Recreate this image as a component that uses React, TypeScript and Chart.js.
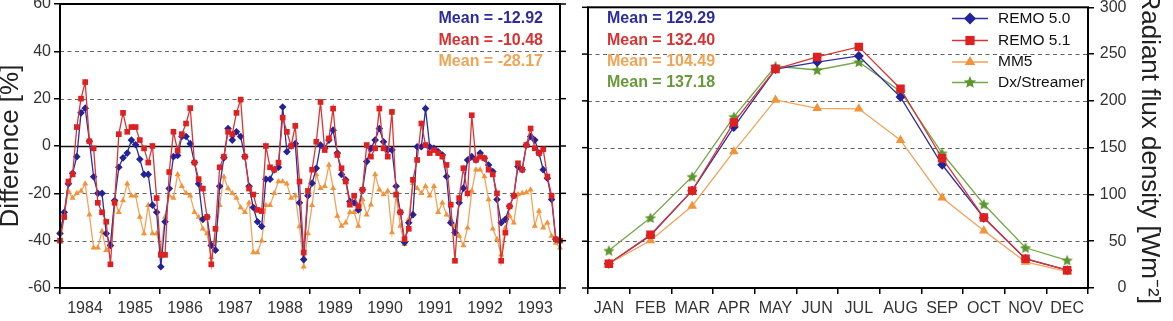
import React, { useEffect, useRef } from 'react';
import { Chart, registerables } from 'chart.js';

Chart.register(...registerables);

const FONT = '"Liberation Sans", Arial, Helvetica, sans-serif';

const YEARS = ['1984', '1985', '1986', '1987', '1988', '1989', '1990', '1991', '1992', '1993'];
const MONTHS = ['JAN', 'FEB', 'MAR', 'APR', 'MAY', 'JUN', 'JUL', 'AUG', 'SEP', 'OCT', 'NOV', 'DEC'];

// Monthly difference [%], Jan 1984 .. Dec 1993
const DIFF_REMO50 = [
  -37, -28, -16, -11.5, -4.5, 14, 16, 2, -13, -20, -20, -37,
  -42, -23, -9, -5, -3, 2.5, 0.5, -5.6, -12, -12, -25, -28,
  -51, -32, -18, -4.5, -4, 4, 4, 1, -7, -16, -31, -30,
  -42, -44, -17, -5, 7.4, 2.5, 6, 4, -4.5, -17, -26, -32,
  -34, -14, -14, -10, -9, 16.5, -2.4, 0, 1, -24, -48, -21,
  -15.7, -9.4, 0.4, -1, 2.5, 6.7, -3, -12, -14.3, -23.4, -24, -27,
  -18.5, -6.6, -1, 2.5, 7.4, 1.8, -1.7, -1.7, -17, -28, -40.8, -32.4,
  -29, -0.3, -0.3, 15.8, -0.3, -1, -2.4, -3.8, -12.9, -32.4, -36.6, -24,
  -17.8, -5.9, -4.5, -5.9, -3, -5.2, -8, -10.8, -22.6, -32.4, -31, -25.5,
  -21, -8.7, -10, 0.4, 4, 2.5, -3, -10, -13.6, -22.6, -39.4, -40,
];
const DIFF_REMO51 = [
  -40, -30, -15, -12, 8, 20, 27, 2, -1, -24, -28, -32,
  -50, -24, 5, 14, 6, 8, 8, 2.5, -1, -7, 0, -22,
  -46, -46, -11, 6, -2, 5, 9.5, 16, -7, -14, -18, -30,
  -50, -35, -9, -4.5, 6, 5, 14, 19.6, -4.5, -18, -20.5, -27,
  -27.5, 0, -9, -10, -7, 12, 6, 0, 8.5, -15, -45, -19,
  -10, 1.8, 18.6, -1.7, 3.2, 15.8, -3.8, -9.4, -15, -24.8, -21, -25.5,
  -18.5, 0.4, -4.5, -1, 15.8, -1, -4.5, 14.4, -20.5, -28, -39.4, -35,
  -14.3, -5.9, 9.5, 0.4, -3, -1.7, -3, -4.5, -8, -24.8, -48.5, -22,
  -9.4, -20, 13, -5.9, -4.5, -5.2, -10, -12, -20, -48.5, -36.6, -25.5,
  -21, -7.3, -10, 0.4, 7.4, -1, -3, -1.4, -12.9, -21, -39.4, -40,
];
const DIFF_MM5 = [
  -36, -29, -19, -22, -20, -19, -16, -29, -43, -43, -36, -44,
  -42, -23, -28, -23, -16, -21, -21, -30, -37, -25, -37, -37,
  -44, -30, -21, -22, -12, -17, -20, -21, -28, -30, -35, -37,
  -47, -40, -25, -13, -18, -20, -22, -26, -28, -24, -45, -45,
  -40, -25, -25, -20, -15, -15, -16, -22, -21, -34, -51, -37,
  -25, -12, -17.8, -17, -8, -17.8, -29.6, -33.8, -32.4, -28, -28, -33.8,
  -22.6, -29, -24.8, -12, -18.5, -20.5, -19, -36.6, -21, -33.8, -41.5, -31,
  -15.7, -17.8, -20, -17, -21, -17, -28, -24, -29, -31, -33.8, -38,
  -42, -34.5, -19, -10, -10, -12.9, -22.6, -35, -39.4, -46, -34.5, -29.6,
  -32.4, -20.5, -20, -19.6, -18.5, -33.8, -27.5, -34.5, -32.4, -38, -41, -43,
];

// Mean annual cycle of radiant flux density [W m-2]
const FLUX_REMO50 = [26, 56, 104, 172, 234, 241.5, 248, 204, 131.7, 75, 31, 19];
const FLUX_REMO51 = [26, 57, 104, 177, 234, 247, 257.7, 213, 138.7, 75.3, 31.3, 19];
const FLUX_MM5 = [26, 50.7, 87.7, 146, 201, 192, 191.5, 158, 96.5, 61.3, 27.8, 17.5];
const FLUX_DX = [40, 75, 119, 183, 237, 233, 241.5, 210, 144, 89.5, 43, 29.6];

const DIFF_MEAN_LABELS = ['Mean = -12.92', 'Mean = -10.48', 'Mean = -28.17'];
const FLUX_MEAN_LABELS = ['Mean = 129.29', 'Mean = 132.40', 'Mean = 104.49', 'Mean = 137.18'];
const SERIES_NAMES = ['REMO 5.0', 'REMO 5.1', 'MM5', 'Dx/Streamer'];

const BLUE = '#22229a';
const BLUE_LINE = '#2e2ea2';
const RED = '#de2020';
const RED_LINE = '#dc3434';
const ORANGE = '#f39236';
const ORANGE_LINE = '#f5a25a';
const GREEN = '#5c962c';
const GREEN_LINE = '#76a84a';
const TEXT_BLUE = '#2c2c9e';
const TEXT_RED = '#d83232';
const TEXT_ORANGE = '#f2a455';
const TEXT_GREEN = '#689a3a';
const TICK_COLOR = '#333';

function starPath(ctx: CanvasRenderingContext2D, cx: number, cy: number, r: number) {
  ctx.beginPath();
  for (let k = 0; k < 10; k++) {
    const rad = k % 2 === 0 ? r : r * 0.45;
    const ang = -Math.PI / 2 + (k * Math.PI) / 5;
    const x = cx + rad * Math.cos(ang);
    const y = cy + rad * Math.sin(ang);
    if (k === 0) ctx.moveTo(x, y);
    else ctx.lineTo(x, y);
  }
  ctx.closePath();
}

function makeStar(color: string, r: number) {
  const size = Math.ceil(r * 2 + 2);
  const c = document.createElement('canvas');
  c.width = size;
  c.height = size;
  const g = c.getContext('2d')!;
  starPath(g, size / 2, size / 2 + 0.5, r);
  g.fillStyle = color;
  g.fill();
  return c;
}

function drawMarker(ctx: CanvasRenderingContext2D, kind: string, x: number, y: number, r: number, color: string) {
  ctx.save();
  ctx.fillStyle = color;
  if (kind === 'star') {
    starPath(ctx, x, y, r);
  } else {
    ctx.beginPath();
    if (kind === 'diamond') {
      ctx.moveTo(x, y - r);
      ctx.lineTo(x + r, y);
      ctx.lineTo(x, y + r);
      ctx.lineTo(x - r, y);
    } else if (kind === 'square') {
      const s = r * Math.SQRT1_2;
      ctx.rect(x - s, y - s, 2 * s, 2 * s);
    } else {
      ctx.moveTo(x, y - r);
      ctx.lineTo(x + r * 0.866, y + r * 0.5);
      ctx.lineTo(x - r * 0.866, y + r * 0.5);
    }
    ctx.closePath();
  }
  ctx.fill();
  ctx.restore();
}

function frameGridPlugin(zeroSolid: boolean, mirror: 'left' | 'right', extra: (chart: any) => void) {
  return {
    id: 'frameGrid',
    beforeDatasetsDraw(chart: any) {
      const { ctx, chartArea: a, scales } = chart;
      const y = scales.y;
      ctx.save();
      y.ticks.forEach((t: any) => {
        if (t.value === y.min || t.value === y.max) return;
        const py = Math.round(y.getPixelForValue(t.value)) + 0.5;
        ctx.beginPath();
        if (zeroSolid && t.value === 0) {
          ctx.setLineDash([]);
          ctx.strokeStyle = '#111';
          ctx.lineWidth = 1.3;
        } else {
          ctx.setLineDash([4, 3.5]);
          ctx.strokeStyle = '#666';
          ctx.lineWidth = 1;
        }
        ctx.moveTo(a.left, py);
        ctx.lineTo(a.right, py);
        ctx.stroke();
      });
      ctx.restore();
    },
    afterDraw(chart: any) {
      const { ctx, chartArea: a, scales } = chart;
      ctx.save();
      ctx.strokeStyle = '#000';
      ctx.lineWidth = 2;
      ctx.strokeRect(a.left, a.top, a.right - a.left, a.bottom - a.top);
      ctx.lineWidth = 1.5;
      const y = scales.y;
      y.ticks.forEach((t: any) => {
        const py = y.getPixelForValue(t.value);
        ctx.beginPath();
        if (mirror === 'right') {
          ctx.moveTo(a.right, py);
          ctx.lineTo(a.right + 6, py);
        } else {
          ctx.moveTo(a.left, py);
          ctx.lineTo(a.left - 6, py);
        }
        ctx.stroke();
      });
      ctx.restore();
      extra(chart);
    },
  };
}

export default function App() {
  const leftRef = useRef<HTMLCanvasElement>(null);
  const rightRef = useRef<HTMLCanvasElement>(null);

  useEffect(() => {
    const tickFont = { family: FONT, size: 16 };
    const titleFont = { family: FONT, size: 26 };

    const leftText = (chart: any) => {
      const ctx = chart.ctx;
      ctx.save();
      ctx.font = `bold 16px ${FONT}`;
      ctx.textAlign = 'right';
      ctx.textBaseline = 'middle';
      const cols = [TEXT_BLUE, TEXT_RED, TEXT_ORANGE];
      const ys = [19, 40.5, 62];
      DIFF_MEAN_LABELS.forEach((s, i) => {
        ctx.fillStyle = cols[i];
        ctx.fillText(s, 543, ys[i]);
      });
      ctx.restore();
    };

    const left = new Chart(leftRef.current!, {
      type: 'line',
      data: {
        datasets: [
          {
            label: 'REMO 5.1',
            data: DIFF_REMO51.map((v, i) => ({ x: i, y: v })),
            borderColor: RED_LINE,
            backgroundColor: RED,
            pointBackgroundColor: RED,
            pointBorderColor: RED,
            pointStyle: 'rect',
            pointRadius: 4,
            pointBorderWidth: 0,
            borderWidth: 1.3,
            order: 0,
            clip: 5,
          },
          {
            label: 'REMO 5.0',
            data: DIFF_REMO50.map((v, i) => ({ x: i, y: v })),
            borderColor: BLUE_LINE,
            backgroundColor: BLUE,
            pointBackgroundColor: BLUE,
            pointBorderColor: BLUE,
            pointStyle: 'rectRot',
            pointRadius: 3.8,
            pointBorderWidth: 0,
            borderWidth: 1.3,
            order: 1,
            clip: 5,
          },
          {
            label: 'MM5',
            data: DIFF_MM5.map((v, i) => ({ x: i, y: v })),
            borderColor: ORANGE_LINE,
            backgroundColor: ORANGE,
            pointBackgroundColor: ORANGE,
            pointBorderColor: ORANGE,
            pointStyle: 'triangle',
            pointRadius: 3.5,
            pointBorderWidth: 0,
            borderWidth: 1.3,
            order: 2,
            clip: 5,
          },
        ],
      } as any,
      options: {
        animation: false,
        responsive: false,
        maintainAspectRatio: false,
        devicePixelRatio: 1,
        layout: { padding: { left: 0, right: 20, top: 4, bottom: 0 } },
        plugins: { legend: { display: false }, tooltip: { enabled: false } },
        scales: {
          x: { type: 'linear', min: 0, max: 119, display: false },
          xYear: {
            type: 'category',
            labels: YEARS,
            position: 'bottom',
            offset: true,
            grid: { offset: true, drawOnChartArea: false, drawTicks: true, tickLength: 6, color: '#000', lineWidth: 1.5 },
            border: { display: false },
            ticks: { font: tickFont, color: TICK_COLOR, padding: 5, autoSkip: false, maxRotation: 0 },
            afterFit: (s: any) => {
              s.height = 33;
              s.paddingLeft = 0;
              s.paddingRight = 0;
            },
          },
          y: {
            type: 'linear',
            min: -60,
            max: 60,
            ticks: { stepSize: 20, font: tickFont, color: TICK_COLOR, padding: 3 },
            grid: { drawOnChartArea: false, drawTicks: true, tickLength: 6, color: '#000', lineWidth: 1.5 },
            border: { display: false },
            title: { display: true, text: 'Difference [%]', font: titleFont, color: '#222', padding: { top: -5, bottom: 0 } },
            afterFit: (s: any) => {
              s.width = 60;
              s.paddingTop = 0;
              s.paddingBottom = 0;
            },
          },
        },
      } as any,
      plugins: [frameGridPlugin(true, 'right', leftText)],
    });

    const rightExtra = (chart: any) => {
      const ctx = chart.ctx;
      const y = chart.scales.y;
      ctx.save();
      // right-aligned tick labels of the flux axis
      ctx.font = `16px ${FONT}`;
      ctx.fillStyle = TICK_COLOR;
      ctx.textAlign = 'right';
      ctx.textBaseline = 'middle';
      y.ticks.forEach((t: any) => {
        ctx.fillText(String(t.label), 546.5, y.getPixelForValue(t.value));
      });
      // mean values
      ctx.font = `bold 16px ${FONT}`;
      ctx.textAlign = 'left';
      const tcols = [TEXT_BLUE, TEXT_RED, TEXT_ORANGE, TEXT_GREEN];
      const ys = [18.5, 40.5, 62, 82.5];
      FLUX_MEAN_LABELS.forEach((s, i) => {
        ctx.fillStyle = tcols[i];
        ctx.fillText(s, 27, ys[i]);
      });
      // legend
      ctx.font = `15.5px ${FONT}`;
      const lcols = [BLUE_LINE, RED_LINE, ORANGE_LINE, GREEN_LINE];
      const mcols = [BLUE, RED, ORANGE, GREEN];
      const kinds = ['diamond', 'square', 'triangle', 'star'];
      const msz = [6, 6.5, 6, 6.5];
      SERIES_NAMES.forEach((s, i) => {
        ctx.strokeStyle = lcols[i];
        ctx.lineWidth = 1.3;
        ctx.beginPath();
        ctx.moveTo(372, ys[i]);
        ctx.lineTo(408, ys[i]);
        ctx.stroke();
        drawMarker(ctx, kinds[i], 390, ys[i], msz[i], mcols[i]);
        ctx.fillStyle = '#111';
        ctx.fillText(s, 418, ys[i]);
      });
      ctx.restore();
    };

    const right = new Chart(rightRef.current!, {
      type: 'line',
      data: {
        labels: MONTHS,
        datasets: [
          {
            label: 'REMO 5.1',
            data: FLUX_REMO51,
            borderColor: RED_LINE,
            backgroundColor: RED,
            pointBackgroundColor: RED,
            pointBorderColor: RED,
            pointStyle: 'rect',
            pointRadius: 6,
            pointBorderWidth: 0,
            borderWidth: 1.3,
            order: 0,
          },
          {
            label: 'MM5',
            data: FLUX_MM5,
            borderColor: ORANGE_LINE,
            backgroundColor: ORANGE,
            pointBackgroundColor: ORANGE,
            pointBorderColor: ORANGE,
            pointStyle: 'triangle',
            pointRadius: 5.5,
            pointBorderWidth: 0,
            borderWidth: 1.3,
            order: 1,
          },
          {
            label: 'REMO 5.0',
            data: FLUX_REMO50,
            borderColor: BLUE_LINE,
            backgroundColor: BLUE,
            pointBackgroundColor: BLUE,
            pointBorderColor: BLUE,
            pointStyle: 'rectRot',
            pointRadius: 5,
            pointBorderWidth: 0,
            borderWidth: 1.3,
            order: 2,
          },
          {
            label: 'Dx/Streamer',
            data: FLUX_DX,
            borderColor: GREEN_LINE,
            backgroundColor: GREEN,
            pointStyle: makeStar(GREEN, 6),
            pointRadius: 6,
            borderWidth: 1.3,
            order: 3,
          },
        ],
      } as any,
      options: {
        animation: false,
        responsive: false,
        maintainAspectRatio: false,
        devicePixelRatio: 1,
        layout: { padding: { left: 8, right: 0, top: 4, bottom: 0 } },
        plugins: { legend: { display: false }, tooltip: { enabled: false } },
        scales: {
          x: {
            type: 'category',
            offset: true,
            grid: { offset: true, drawOnChartArea: false, drawTicks: true, tickLength: 6, color: '#000', lineWidth: 1.5 },
            border: { display: false },
            ticks: { font: tickFont, color: TICK_COLOR, padding: 5, autoSkip: false, maxRotation: 0 },
            afterFit: (s: any) => {
              s.height = 33;
              s.paddingLeft = 0;
              s.paddingRight = 0;
            },
          },
          y: {
            type: 'linear',
            position: 'right',
            min: 0,
            max: 300,
            ticks: { stepSize: 50, display: false },
            grid: { drawOnChartArea: false, drawTicks: true, tickLength: 6, color: '#000', lineWidth: 1.5 },
            border: { display: false },
            title: {
              display: true,
              text: 'Radiant flux density [Wm\u207B\u00B2]',
              font: titleFont,
              color: '#222',
              padding: { top: 8, bottom: 0 },
            },
            afterFit: (s: any) => {
              s.width = 85;
              s.paddingTop = 0;
              s.paddingBottom = 0;
            },
          },
        },
      } as any,
      plugins: [frameGridPlugin(false, 'left', rightExtra)],
    });

    return () => {
      left.destroy();
      right.destroy();
    };
  }, []);

  return (
    <div style={{ position: 'absolute', left: 0, top: 0, width: 1173, height: 321, background: '#fff' }}>
      <canvas
        ref={leftRef}
        width={580}
        height={321}
        style={{ position: 'absolute', left: 0, top: 0, width: 580, height: 321 }}
      />
      <canvas
        ref={rightRef}
        width={593}
        height={321}
        style={{ position: 'absolute', left: 580, top: 0, width: 593, height: 321 }}
      />
    </div>
  );
}
